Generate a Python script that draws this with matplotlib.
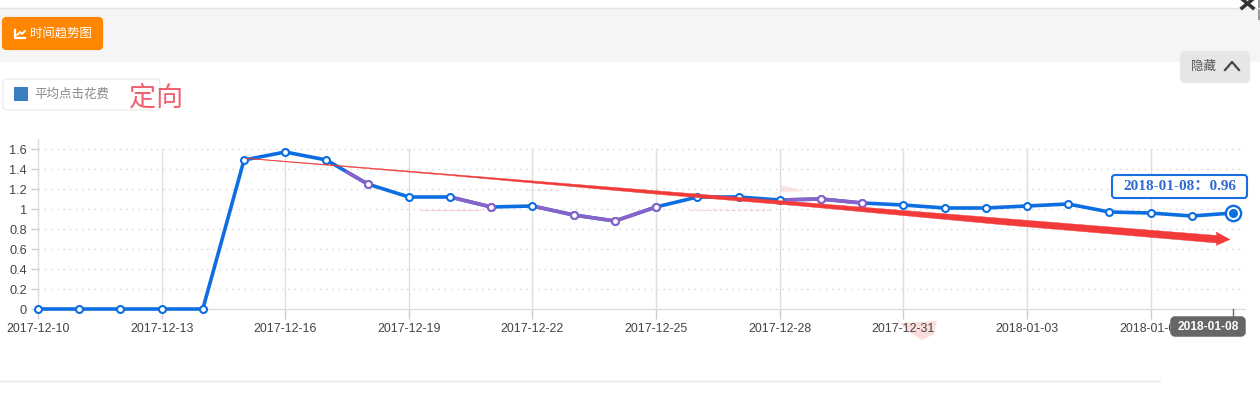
import matplotlib
matplotlib.use("Agg")
import matplotlib.pyplot as plt
from matplotlib.patches import FancyBboxPatch, Polygon, Rectangle

dates = ["2017-12-10", "2017-12-11", "2017-12-12", "2017-12-13", "2017-12-14", "2017-12-15",
         "2017-12-16", "2017-12-17", "2017-12-18", "2017-12-19", "2017-12-20", "2017-12-21",
         "2017-12-22", "2017-12-23", "2017-12-24", "2017-12-25", "2017-12-26", "2017-12-27",
         "2017-12-28", "2017-12-29", "2017-12-30", "2017-12-31", "2018-01-01", "2018-01-02",
         "2018-01-03", "2018-01-04", "2018-01-05", "2018-01-06", "2018-01-07", "2018-01-08"]
values = [0, 0, 0, 0, 0, 1.49, 1.57, 1.49, 1.25, 1.12, 1.12, 1.02, 1.03, 0.94, 0.88, 1.02, 1.12,
          1.12, 1.09, 1.10, 1.06, 1.04, 1.01, 1.01, 1.03, 1.05, 0.97, 0.96, 0.93, 0.96]
y_ticks = [0, 0.2, 0.4, 0.6, 0.8, 1, 1.2, 1.4, 1.6]
y_labels = ["0", "0.2", "0.4", "0.6", "0.8", "1", "1.2", "1.4", "1.6"]
purple_points = [8, 11, 13, 14, 15, 19, 20]
purple_segments = [(7, 8), (10, 11), (12, 13), (13, 14), (14, 15), (18, 19), (19, 20)]

W, H = 1260, 396
BLUE = "#0c6ee0"
PURPLE = "#8a62c8"
CJK = ["Noto Sans CJK SC", "DejaVu Sans"]
LATIN = ["Liberation Sans", "DejaVu Sans"]

fig = plt.figure(figsize=(W / 100, H / 100), dpi=100, facecolor="white")

# page furniture, in pixel coordinates
bg = fig.add_axes([0, 0, 1, 1])
bg.set_xlim(0, W)
bg.set_ylim(H, 0)
bg.axis("off")

bg.add_patch(Rectangle((0, 8), W, 54, fc="#f5f5f5", ec="none"))
bg.plot([0, W], [7.5, 7.5], color="#e4e4e4", lw=1)
bg.plot([0, 1160], [381, 381], color="#e8e8e8", lw=1)

bg.add_patch(FancyBboxPatch((4, 19), 97, 29, boxstyle="round,pad=0,rounding_size=2",
                            fc="#ff8600", ec="#ff8600", lw=3, joinstyle="round"))
bg.plot([15, 15, 25], [30, 38, 38], color="white", lw=1.6)
bg.plot([17, 20, 22, 25], [35, 32, 34, 31], color="white", lw=1.3)
bg.text(61, 33.5, "时间趋势图", family=CJK, fontsize=8.9, fontweight="medium", color="white",
        ha="center", va="center")

bg.add_patch(FancyBboxPatch((3, 79), 157, 31, boxstyle="round,pad=0,rounding_size=4",
                            fc="white", ec="#e9e9e9", lw=0.8))
bg.add_patch(Rectangle((14, 87), 14, 14, fc="#3a7fc2", ec="none"))
bg.text(72, 94, "平均点击花费", family=CJK, fontsize=9, color="#8a8a8a", ha="center", va="center")
bg.text(156, 98, "定向", family=CJK, fontsize=19.5, color="#f0606e", ha="center", va="center")

bg.add_patch(FancyBboxPatch((1182, 53), 66, 28, boxstyle="round,pad=0,rounding_size=3",
                            fc="#e6e6e6", ec="#e6e6e6", lw=3))
bg.text(1203, 66.5, "隐藏", family=CJK, fontsize=9, color="#555555", ha="center", va="center")
bg.plot([1225, 1232, 1239], [70, 62, 70], color="#444444", lw=1.6)
bg.plot([1242, 1253], [-1, 8], color="#333333", lw=2.6)
bg.plot([1242, 1253], [8, -1], color="#333333", lw=2.6)
bg.add_patch(Rectangle((1258, 0), 2, 20, fc="#999999", ec="none"))

# faint red smudges left in the screenshot
bg.add_patch(Polygon([[900, 323], [937, 321], [934, 334], [922, 340], [909, 332]],
                     fc="#fbdcdc", ec="none"))
bg.add_patch(Polygon([[780, 185], [806, 191], [780, 192]], fc="#fbe3e3", ec="none"))
bg.plot([421, 480], [210, 210], color="#f8d0d0", lw=0.8)
bg.plot([525, 560], [190, 190], color="#fbdcdc", lw=0.8, ls="--")
bg.plot([690, 770], [210, 210], color="#f8d0d0", lw=0.8, ls="--")

# chart
x = list(range(len(dates)))
left, right, top, bottom = 38, 1245, 139, 309
ax = fig.add_axes([left / W, 1 - bottom / H, (right - left) / W, (bottom - top) / H])
ax.patch.set_alpha(0)
ax.set_xlim(0, 29 * (right - left) / (1233 - left))
ax.set_ylim(0, (bottom - top) / 100)

for s in ["top", "right"]:
    ax.spines[s].set_visible(False)
for s in ["left", "bottom"]:
    ax.spines[s].set_color("#dddddd")
    ax.spines[s].set_linewidth(1)

ax.set_yticks(y_ticks)
ax.set_yticklabels(y_labels, family=LATIN, fontsize=9.2, color="#444444")
tick_idx = x[::3]
ax.set_xticks(tick_idx)
ax.set_xticklabels([dates[i] for i in tick_idx], family=LATIN, fontsize=8.9, color="#444444")
ax.tick_params(axis="y", length=5, width=1, color="#cccccc", pad=3)
ax.tick_params(axis="x", length=7, width=1, color="#cccccc", pad=3)

for t in y_ticks[1:]:
    ax.plot([0, ax.get_xlim()[1]], [t, t], color="#d6d6d6", lw=1, ls=(0, (1, 3.5)), zorder=1)
for i in tick_idx[1:]:
    ax.plot([i, i], [0, 1.6], color="#dedede", lw=1, zorder=1)

ax.plot(x, values, color=BLUE, lw=2.6, zorder=3, clip_on=False, solid_joinstyle="round")
for a, b in purple_segments:
    ax.plot([a + 0.5 if a == 7 else a, b],
            [(values[a] + values[b]) / 2 if a == 7 else values[a], values[b]],
            color=PURPLE, lw=2.6, zorder=3.1)
ax.plot(x[:-1], values[:-1], ls="none", marker="o", ms=5, mfc="white", mec=BLUE, mew=1.5,
        zorder=4, clip_on=False)
ax.plot([x[i] for i in purple_points], [values[i] for i in purple_points], ls="none", marker="o",
        ms=5, mfc="white", mec=PURPLE, mew=1.5, zorder=4.1, clip_on=False)
ax.plot(x[-1], values[-1], marker="o", ms=11, mfc="white", mec=BLUE, mew=1.7, zorder=4)
ax.plot(x[-1], values[-1], marker="o", ms=5.5, mfc=BLUE, mec=BLUE, zorder=4.2)

# hand drawn trend arrow and the hover labels go on top
fg = fig.add_axes([0, 0, 1, 1])
fg.patch.set_alpha(0)
fg.set_xlim(0, W)
fg.set_ylim(H, 0)
fg.axis("off")
fg.add_patch(Polygon([[245, 158], [1217, 235.5], [1216, 232], [1230, 239.5], [1216, 245.5],
                      [1217, 243], [1000, 224.5], [800, 206], [660, 194.5], [450, 175.5],
                      [245, 158.5]],
                     fc="#f23a3a", ec="#f23a3a", lw=0.3))
fg.add_patch(FancyBboxPatch((1112, 175), 135, 23, boxstyle="round,pad=0,rounding_size=3",
                            fc="white", ec="#1a6fe0", lw=1.5))
fg.text(1179.5, 186.5, f"{dates[-1]}：{values[-1]}", family=["Liberation Serif", "Noto Sans CJK SC"],
        fontweight="bold", fontsize=11, color="#2f6bd0", ha="center", va="center")
fg.plot([1233, 1233], [309, 317], color="#666666", lw=1)
fg.add_patch(FancyBboxPatch((1172, 318), 72, 17, boxstyle="round,pad=0,rounding_size=3",
                            fc="#666666", ec="#666666", lw=2.5))
fg.text(1208, 326.5, dates[-1], family=LATIN, fontweight="bold", fontsize=8.6, color="white",
        ha="center", va="center")

fig.savefig("out.png", dpi=100)
